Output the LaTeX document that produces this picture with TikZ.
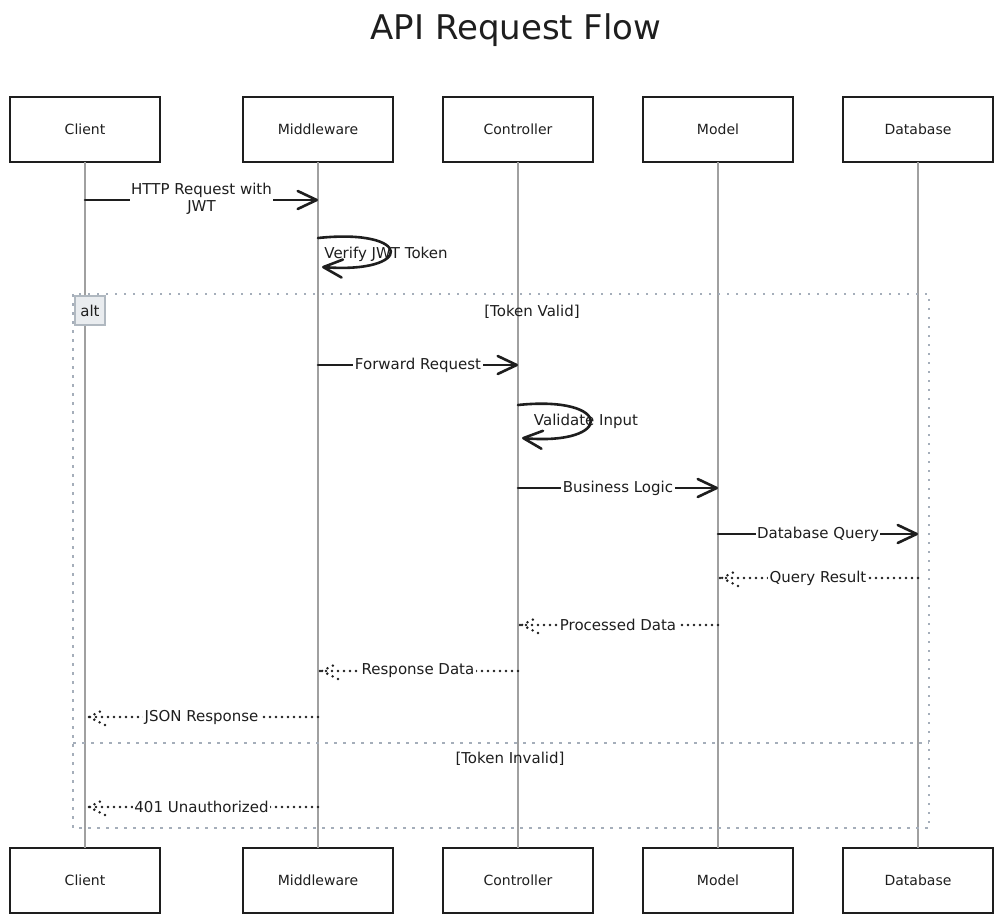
\documentclass[tikz,border=0pt]{standalone}
\usepackage{fontspec}
\setmainfont{DejaVu Sans}
\usetikzlibrary{arrows.meta}
\usetikzlibrary{positioning}
\definecolor{lifegray}{RGB}{160,160,160}
\definecolor{framegray}{RGB}{165,174,186}
\definecolor{altfill}{RGB}{233,236,239}
\definecolor{altline}{RGB}{176,184,192}
\definecolor{ink}{RGB}{30,30,30}

\tikzset{
  actor/.style={draw=ink, line width=2.2pt, fill=white, outer sep=0pt, minimum width=150pt, minimum height=65pt, inner sep=0pt, text=ink, font=\fontsize{14}{16}\selectfont},
  life/.style={draw=lifegray, line width=1.2pt},
  msg/.style={draw=ink, line width=2.6pt, line cap=round, -{Straight Barb[length=19pt,width=18pt,round]}},
  msglabel/.style={fill=white, inner sep=1.5pt, text=ink, font=\fontsize{15}{17}\selectfont},
  retline/.style={draw=ink, line width=2.8pt, line cap=round, dash pattern=on 0pt off 6pt},
  frame/.style={draw=framegray, line width=2.2pt, dash pattern=on 2.5pt off 6.5pt},
  alttag/.style={draw=altline, fill=altfill, line width=1.4pt, outer sep=0pt, minimum width=30pt, minimum height=29pt, inner sep=0pt, text=ink, font=\fontsize{15}{17}\selectfont},
  guard/.style={text=ink, font=\fontsize{15}{17}\selectfont},
  rethead/.pic={\draw[retline] (20,-8) -- (4,0) -- (20,8);}
}

\begin{document}
\begin{tikzpicture}[x=1pt,y=1pt,yscale=-1,xscale=1]
\useasboundingbox (0,0) rectangle (1003,923);

% Title
\node[text=ink, font=\fontsize{34}{38}\selectfont] (title) at (516,30) {API Request Flow};

% Participants (top)
\node[actor] (cliT) at (85,129.5) {Client};
\node[actor, right=83pt of cliT] (midT) {Middleware};
\node[actor, right=50pt of midT] (ctlT) {Controller};
\node[actor, right=50pt of ctlT] (modT) {Model};
\node[actor, right=50pt of modT] (dbT) {Database};

% Participants (bottom)
\node[actor] (cliB) at (cliT |- 0,880.5) {Client};
\node[actor] (midB) at (midT |- 0,880.5) {Middleware};
\node[actor] (ctlB) at (ctlT |- 0,880.5) {Controller};
\node[actor] (modB) at (modT |- 0,880.5) {Model};
\node[actor] (dbB) at (dbT |- 0,880.5) {Database};

% Lifelines
\draw[life] (cliT.south) -- (cliB.north);
\draw[life] (midT.south) -- (midB.north);
\draw[life] (ctlT.south) -- (ctlB.north);
\draw[life] (modT.south) -- (modB.north);
\draw[life] (dbT.south) -- (dbB.north);

% alt frame
\draw[frame] (73,294) rectangle (929,828);
\draw[frame] (73,743) -- (929,743);
\node[alttag, anchor=north west] (alt) at (75,296) {alt};
\node[guard] (valid) at (532,312) {[Token Valid]};
\node[guard] (invalid) at (510,759) {[Token Invalid]};

% Client -> Middleware
\draw[msg] (cliT |- 0,200) -- node[msglabel, align=center, yshift=1pt] {HTTP Request with\\JWT} (midT |- 0,200);

% Verify JWT Token (self)
\draw[msg] (midT |- 0,238) .. controls (414,228) and (414,274) .. (322,267);
\node[msglabel, fill=none] (verify) at (386,254) {Verify JWT Token};

% Middleware -> Controller
\draw[msg] (midT |- 0,365) -- node[msglabel] {Forward Request} (ctlT |- 0,365);

% Validate Input (self)
\draw[msg] (ctlT |- 0,405) .. controls (614,395) and (614,446) .. (522,438);
\node[msglabel, fill=none] (validate) at (586,421) {Validate Input};

% Controller -> Model -> Database
\draw[msg] (ctlT |- 0,488) -- node[msglabel] {Business Logic} (modT |- 0,488);
\draw[msg] (modT |- 0,534) -- node[msglabel] {Database Query} (dbT |- 0,534);

% Returns
\draw[retline] (dbT |- 0,578) -- node[msglabel] {Query Result} (modT |- 0,578);
\path (modT |- 0,578) pic {rethead};
\draw[retline] (modT |- 0,625) -- node[msglabel] {Processed Data} (ctlT |- 0,625);
\path (ctlT |- 0,625) pic {rethead};
\draw[retline] (ctlT |- 0,671) -- node[msglabel] {Response Data} (midT |- 0,671);
\path (midT |- 0,671) pic {rethead};
\draw[retline] (midT |- 0,717) -- node[msglabel] {JSON Response} (cliT |- 0,717);
\path (cliT |- 0,717) pic {rethead};

% Token invalid
\draw[retline] (midT |- 0,807) -- node[msglabel] {401 Unauthorized} (cliT |- 0,807);
\path (cliT |- 0,807) pic {rethead};

\end{tikzpicture}
\end{document}
